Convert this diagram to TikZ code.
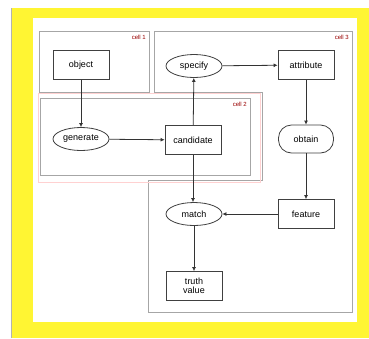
\documentclass[tikz,border=0pt]{standalone}
\usepackage{fontspec}
\setmainfont{Liberation Sans}
\usetikzlibrary{arrows.meta,shapes.geometric}
\tikzset{
  entity/.style={rectangle, draw=black!75, thick, minimum width=56pt, minimum height=29pt, inner sep=1pt, align=center, font=\fontsize{9}{9.5}\selectfont},
  process/.style={ellipse, draw=black!75, thick, minimum width=56pt, minimum height=23pt, inner sep=0pt, font=\fontsize{9}{9.5}\selectfont},
  stadium/.style={rectangle, rounded corners=13pt, draw=black!75, thick, minimum width=55pt, minimum height=28pt, inner sep=0pt, font=\fontsize{9}{9.5}\selectfont},
  region/.style={draw=black!35, thick},
  regionlabel/.style={anchor=north east, text=red!60!black, font=\fontsize{6}{7}\selectfont, inner sep=1pt},
  link/.style={draw=black!80, thick, -{Latex[length=4pt,width=4pt]}}
}
\begin{document}
\begin{tikzpicture}[x=1pt, y=-1pt]
  \useasboundingbox (0,0) rectangle (369,338);
  \fill[yellow!80!white] (11,8) rectangle (369,338);
  \draw[black!30] (11,8) -- (11,338);
  \fill[white] (33,18) rectangle (357,322);

  % regions
  \draw[region] (39,31) rectangle (149,92);
  \node[regionlabel] (lab1) at (147,34) {cell 1};
  \draw[region] (154,31) -- (352,31) -- (352,312) -- (148,312) -- (148,180)
    -- (262,180) -- (262,92) -- (154,92) -- cycle;
  \node[regionlabel] (lab3) at (350,34) {cell 3};
  \draw[red!18, thick] (38,93) rectangle (260,182);
  \draw[region] (40,98) rectangle (250,175);
  \node[regionlabel] (lab2) at (248,101) {cell 2};

  % nodes
  \node[entity] (object) at (81,65) {object};
  \node[process] (specify) at (194,66) {specify};
  \node[entity] (attribute) at (306,65) {attribute};
  \node[process] (generate) at (81,139) {generate};
  \node[entity] (candidate) at (193,140) {candidate};
  \node[stadium] (obtain) at (306,139) {obtain};
  \node[process] (match) at (194,214) {match};
  \node[entity] (feature) at (306,214) {feature};
  \node[entity] (truth) at (194,286) {truth\\value};

  % links
  \draw[link] (object) -- (generate);
  \draw[link] (generate) -- (candidate);
  \draw[link, {Latex[length=4pt,width=4pt]}-] (specify) -- (candidate);
  \draw[link] (specify) -- (attribute);
  \draw[link] (attribute) -- (obtain);
  \draw[link] (obtain) -- (feature);
  \draw[link] (candidate.south) -- (candidate.south |- match.north);
  \draw[link, {Latex[length=4pt,width=4pt]}-] (match) -- (feature);
  \draw[link] (match) -- (truth);
\end{tikzpicture}
\end{document}
